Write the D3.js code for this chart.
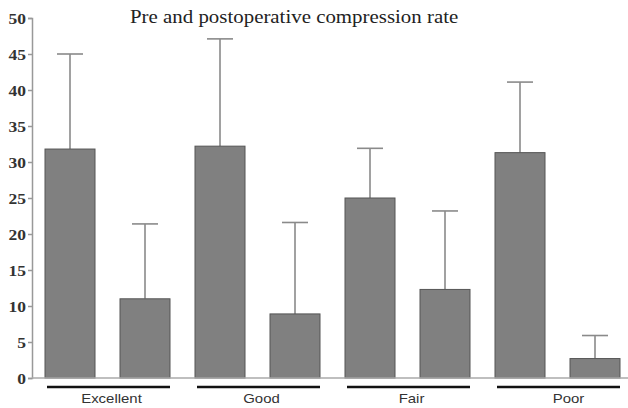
<!DOCTYPE html>
<html><head><meta charset="utf-8">
<script src="https://cdn.jsdelivr.net/npm/d3@7"></script>
<style>body{margin:0;background:#fff}svg{display:block}</style>
</head><body>
<svg id="c" width="628" height="408"></svg>
<script>
const categories = ["Excellent", "Good", "Fair", "Poor"];
const phases = ["Pre", "Post"];
const preMeans = [31.8, 32.2, 25.0, 31.3];
const preErr = [45.0, 47.1, 31.9, 41.1];
const postMeans = [11.0, 8.9, 12.3, 2.7];
const postErr = [21.4, 21.6, 23.2, 5.9];
const yTicks = [0, 5, 10, 15, 20, 25, 30, 35, 40, 45, 50];
const title = "Pre and postoperative compression rate";

const svg = d3.select("#c");
const y = d3.scaleLinear().domain([0, 50]).range([378, 18]);
const x0 = d3.scaleBand().domain(categories).range([45, 645]).paddingInner(0).paddingOuter(0);
const x1 = d3.scaleBand().domain(phases).range([0, 125]).paddingInner(1 / 3).paddingOuter(0);
const barW = x1.bandwidth();

const rows = [];
categories.forEach((c, i) => {
  rows.push({c, p: "Pre", v: preMeans[i], e: preErr[i]});
  rows.push({c, p: "Post", v: postMeans[i], e: postErr[i]});
});
const bx = d => x0(d.c) + x1(d.p);

// error bars
const eb = svg.append("g").attr("stroke", "#8a8a8a").attr("stroke-width", 1.6).attr("fill", "none");
rows.forEach(d => {
  const cx = bx(d) + barW / 2;
  eb.append("line").attr("x1", cx).attr("x2", cx).attr("y1", y(d.v)).attr("y2", y(d.e));
  eb.append("line").attr("x1", cx - 13).attr("x2", cx + 13).attr("y1", y(d.e)).attr("y2", y(d.e));
});

// bars
svg.append("g").selectAll("rect").data(rows).join("rect")
  .attr("x", d => bx(d)).attr("width", barW)
  .attr("y", d => y(d.v)).attr("height", d => y(0) - y(d.v))
  .attr("fill", "#808080").attr("stroke", "#555").attr("stroke-width", 1);

// y axis
const ya = svg.append("g").attr("transform", "translate(32,0)")
  .call(d3.axisLeft(y).tickValues(yTicks).tickSize(4).tickPadding(2));
ya.select(".domain").attr("stroke", "#999").attr("stroke-width", 1.5);
ya.selectAll(".tick line").attr("stroke", "#999").attr("stroke-width", 1.5);
ya.selectAll("text")
  .attr("x", null).attr("dy", null)
  .attr("text-anchor", "end")
  .attr("transform", "translate(-6,5) scale(1.25,1)")
  .attr("font-family", "'Liberation Serif', 'Times New Roman', serif")
  .attr("font-weight", "bold").attr("font-size", 14).attr("fill", "#333");

// baseline
svg.append("line").attr("x1", 32).attr("x2", 628).attr("y1", y(0)).attr("y2", y(0))
  .attr("stroke", "#aaa").attr("stroke-width", 1.5);

// group underlines and labels
categories.forEach((c, i) => {
  const xs = x0(c) + 2;
  const xe = Math.min(x0(c) + x1.range()[1], 628);
  svg.append("line").attr("x1", xs).attr("x2", xe).attr("y1", 387).attr("y2", 387)
    .attr("stroke", "#111").attr("stroke-width", 2.5);
  const cx = x0(c) + x1.range()[1] / 2 + (i === 3 ? 11 : 4);
  svg.append("text").attr("text-anchor", "middle")
    .attr("transform", `translate(${cx},403) scale(1.15,1)`)
    .attr("font-family", "'Liberation Sans', Arial, sans-serif").attr("font-size", 13)
    .attr("fill", "#333").text(c);
});

// title
svg.append("text").attr("transform", "translate(130,23) scale(1.13,1)")
  .attr("font-family", "'Liberation Serif', 'Times New Roman', serif").attr("font-size", 18.5)
  .attr("fill", "#222").text(title);
</script>
</body></html>
